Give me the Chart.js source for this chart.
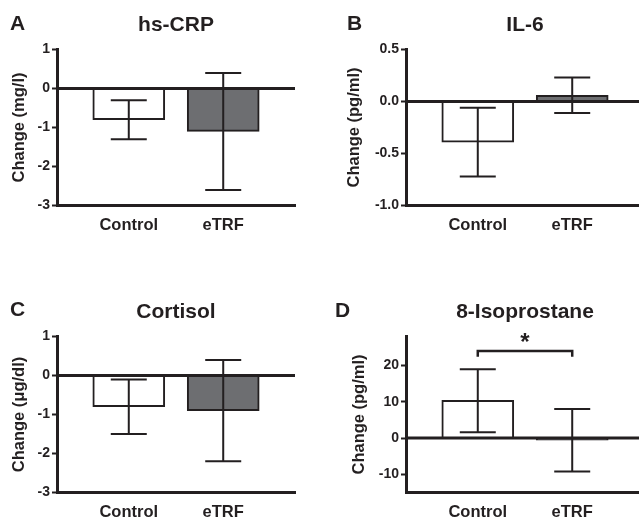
<!DOCTYPE html>
<html><head><meta charset="utf-8">
<script src="https://cdn.jsdelivr.net/npm/chart.js@4/dist/chart.umd.min.js"></script>
<style>
html,body{margin:0;padding:0;background:#fff;}
body{width:639px;height:521px;overflow:hidden;position:relative;}
canvas{position:absolute;}
</style></head><body>
<canvas id="cA" width="320" height="260" style="left:0;top:0"></canvas>
<canvas id="cB" width="330" height="260" style="left:320px;top:0"></canvas>
<canvas id="cC" width="320" height="260" style="left:0;top:287px"></canvas>
<canvas id="cD" width="330" height="260" style="left:320px;top:287px"></canvas>
<script>
// ---- data ----
const categories = ['Control', 'eTRF'];

const crpMean = [-0.8, -1.1];
const crpLow  = [-1.3, -2.6];
const crpHigh = [-0.3, 0.4];
const crpTicks = [1, 0, -1, -2, -3];

const il6Mean = [-0.39, 0.06];
const il6Low  = [-0.72, -0.11];
const il6High = [-0.06, 0.23];
const il6Ticks = [0.5, 0.0, -0.5, -1.0];

const cortMean = [-0.8, -0.9];
const cortLow  = [-1.5, -2.2];
const cortHigh = [-0.1, 0.4];
const cortTicks = [1, 0, -1, -2, -3];

const isoMean = [10.4, -0.6];
const isoLow  = [1.6, -9.2];
const isoHigh = [19.0, 8.0];
const isoTicks = [20, 10, 0, -10];

// ---- style ----
const INK = '#231f20';
const GRAY = '#6d6e71';
const barColors = ['#ffffff', GRAY];
const FONT = "'Liberation Sans', Arial, Helvetica, sans-serif";
Chart.defaults.font.family = FONT;
Chart.defaults.color = INK;

function errorBarsPlugin(low, high, cap) {
  return {
    id: 'errorBars',
    afterDatasetsDraw(chart) {
      const {ctx, scales: {x, y}, chartArea} = chart;
      ctx.save();
      ctx.strokeStyle = INK;
      ctx.lineWidth = 2;
      low.forEach((lo, i) => {
        const px = x.getPixelForValue(i);
        const yl = y.getPixelForValue(lo), yh = y.getPixelForValue(high[i]);
        ctx.beginPath();
        ctx.moveTo(px, yl); ctx.lineTo(px, yh);
        ctx.moveTo(px - cap / 2, yl); ctx.lineTo(px + cap / 2, yl);
        ctx.moveTo(px - cap / 2, yh); ctx.lineTo(px + cap / 2, yh);
        ctx.stroke();
      });
      const y0 = y.getPixelForValue(0);
      ctx.lineWidth = 3;
      ctx.beginPath();
      ctx.moveTo(chartArea.left, y0); ctx.lineTo(chartArea.right, y0);
      ctx.stroke();
      ctx.restore();
    }
  };
}

function decoPlugin(letter, title, letterX, letterY, titleY) {
  return {
    id: 'deco',
    afterDraw(chart) {
      const {ctx, chartArea} = chart;
      ctx.save();
      ctx.fillStyle = INK;
      ctx.font = "bold 21px " + FONT;
      ctx.textBaseline = 'alphabetic';
      ctx.textAlign = 'left';
      ctx.fillText(letter, letterX, letterY);
      ctx.textAlign = 'center';
      ctx.fillText(title, (chartArea.left + chartArea.right) / 2, titleY);
      ctx.restore();
    }
  };
}

function bracketPlugin(from, to, level, drop, mark) {
  return {
    id: 'bracket',
    afterDraw(chart) {
      const {ctx, scales: {x, y}} = chart;
      const x1 = x.getPixelForValue(from), x2 = x.getPixelForValue(to);
      const yl = y.getPixelForValue(level), yd = y.getPixelForValue(level - drop);
      ctx.save();
      ctx.strokeStyle = INK;
      ctx.lineWidth = 2.5;
      ctx.beginPath();
      ctx.moveTo(x1, yd); ctx.lineTo(x1, yl); ctx.lineTo(x2, yl); ctx.lineTo(x2, yd);
      ctx.stroke();
      ctx.fillStyle = INK;
      ctx.font = "bold 24px " + FONT;
      ctx.textAlign = 'center';
      ctx.textBaseline = 'alphabetic';
      const m = ctx.measureText(mark);
      const cy = yl - 13.5;
      const base = cy + (m.actualBoundingBoxAscent - m.actualBoundingBoxDescent) / 2;
      ctx.fillText(mark, (x1 + x2) / 2, base);
      ctx.restore();
    }
  };
}

function makePanel(id, p) {
  const yTicks = p.ticks;
  new Chart(document.getElementById(id), {
    type: 'bar',
    data: {
      datasets: [{
        data: categories.map((c, i) => ({x: i, y: p.mean[i]})),
        backgroundColor: barColors,
        borderColor: INK,
        borderWidth: 2,
        barThickness: 72
      }]
    },
    options: {
      responsive: false,
      animation: false,
      events: [],
      layout: {padding: {left: 0, right: p.padRight, top: 49.5, bottom: 0}},
      plugins: {legend: {display: false}, tooltip: {enabled: false}, title: {display: false}},
      scales: {
        x: {
          type: 'linear',
          offset: false,
          min: -0.76, max: 1.76,
          afterBuildTicks: s => { s.ticks = categories.map((c, i) => ({value: i})); },
          afterFit: s => { s.height = 54.5; },
          grid: {display: false, drawTicks: false, offset: false},
          border: {display: true, width: 3, color: INK},
          ticks: {
            callback: v => categories[v],
            font: {size: 16.5, weight: 'bold'},
            color: INK,
            padding: 10,
            maxRotation: 0, autoSkip: false
          }
        },
        y: {
          min: p.min, max: p.max,
          afterBuildTicks: s => { s.ticks = yTicks.map(v => ({value: v})); },
          afterFit: s => { s.width = p.axisW; },
          grid: {display: true, drawOnChartArea: false, drawTicks: true, tickLength: 5, tickWidth: 2, tickColor: INK, color: INK},
          border: {display: true, width: 3, color: INK},
          ticks: {
            callback: v => p.dec ? Number(v).toFixed(p.dec) : String(v),
            font: {size: 14, weight: 'bold'},
            color: INK,
            padding: 2,
            autoSkip: false
          },
          title: {
            display: true, text: p.yTitle, color: INK,
            font: {size: 16.5, weight: 'bold'},
            padding: {top: p.titlePad, bottom: 0}
          }
        }
      }
    },
    plugins: [errorBarsPlugin(p.low, p.high, 36), decoPlugin(p.letter, p.title, p.letterX, p.letterY, p.titleY)].concat(p.extra || [])
  });
}

makePanel('cA', {mean: crpMean, low: crpLow, high: crpHigh, ticks: crpTicks, min: -3, max: 1, dec: 0,
  axisW: 57, padRight: 25, titlePad: 9.5, yTitle: 'Change (mg/l)', letter: 'A', title: 'hs-CRP',
  letterX: 10, letterY: 30, titleY: 30.5});
makePanel('cB', {mean: il6Mean, low: il6Low, high: il6High, ticks: il6Ticks, min: -1, max: 0.5, dec: 1,
  axisW: 86, padRight: 6, titlePad: 25, yTitle: 'Change (pg/ml)', letter: 'B', title: 'IL-6',
  letterX: 27, letterY: 30, titleY: 30.5});
makePanel('cC', {mean: cortMean, low: cortLow, high: cortHigh, ticks: cortTicks, min: -3, max: 1, dec: 0,
  axisW: 57, padRight: 25, titlePad: 9.5, yTitle: 'Change (\u03bcg/dl)', letter: 'C', title: 'Cortisol',
  letterX: 10, letterY: 28.5, titleY: 31});
makePanel('cD', {mean: isoMean, low: isoLow, high: isoHigh, ticks: isoTicks, min: -15, max: 28, dec: 0,
  axisW: 86, padRight: 6, titlePad: 29.5, yTitle: 'Change (pg/ml)', letter: 'D', title: '8-Isoprostane',
  letterX: 15, letterY: 29.5, titleY: 31,
  extra: [bracketPlugin(0, 1, 24, 1.6, '*')]});
</script>
</body></html>
